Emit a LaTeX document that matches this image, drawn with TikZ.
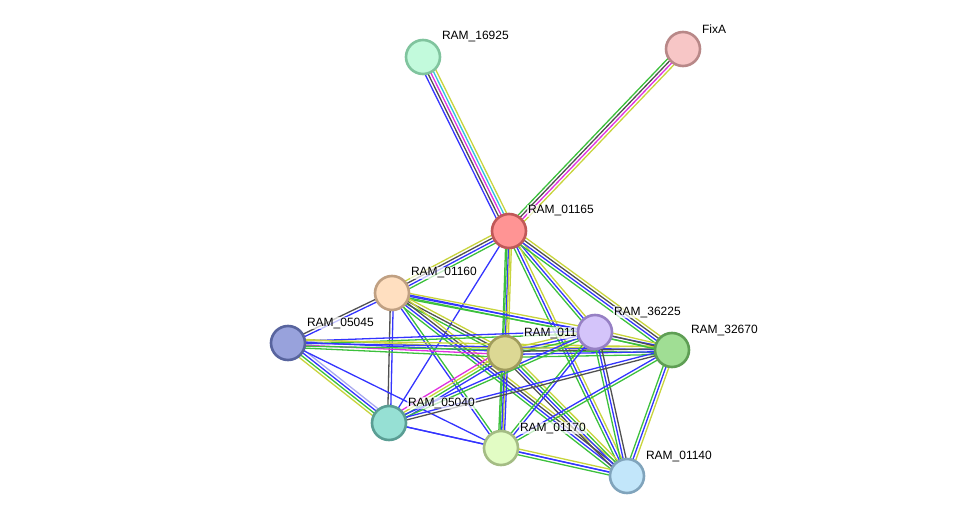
\documentclass[tikz,border=0pt]{standalone}
\usepackage{fontspec}
\setmainfont{Liberation Sans}
\usetikzlibrary{calc}
% evidence colours
\definecolor{eGreen}{HTML}{3CC03C}
\definecolor{eBlue}{HTML}{3434FF}
\definecolor{eBlack}{HTML}{505050}
\definecolor{eMagenta}{HTML}{E030E0}
\definecolor{eCyan}{HTML}{34C0E0}
\definecolor{eYellow}{HTML}{C8D43C}
\definecolor{eLav}{HTML}{A8A8F0}
\pgfdeclarelayer{edges}
\pgfdeclarelayer{labels}
\pgfsetlayers{edges,labels,main}
% one evidence line per colour, side by side
\newcommand{\link}[3]{%
  \foreach \col [count=\k] in {#3} {\xdef\nlines{\k}}
  \foreach \col [count=\i] in {#3} {
    \pgfmathsetmacro{\off}{(\i-(\nlines+1)/2)*2.9}
    \draw[evline, \col] ($(#1)!\off pt!90:(#2)$) -- ($(#2)!\off pt!-90:(#1)$);
  }}

\begin{document}
\begin{tikzpicture}[x=1pt, y=-1pt,
    prot/.style={circle, minimum size=34pt, line width=2.6pt, inner sep=0pt},
    evline/.style={line width=1.3pt},
    lbl/.style={anchor=west, font=\fontsize{12}{14}\selectfont, inner sep=0.8pt,
      fill=white, fill opacity=0.7, text opacity=1}]
  \useasboundingbox (0,0) rectangle (975,522);
  \node[prot, fill={rgb,255:red,194;green,250;blue,220}, draw={rgb,255:red,128;green,196;blue,158}] (n16925) at (423, 57)  {};
  \node[prot, fill={rgb,255:red,247;green,198;blue,198}, draw={rgb,255:red,184;green,136;blue,136}] (nFixA)  at (683, 49)  {};
  \node[prot, fill={rgb,255:red,255;green,148;blue,148}, draw={rgb,255:red,192;green,88;blue,88}]   (n01165) at (509, 231) {};
  \node[prot, fill={rgb,255:red,255;green,223;blue,192}, draw={rgb,255:red,192;green,160;blue,130}] (n01160) at (392, 293) {};
  \node[prot, fill={rgb,255:red,152;green,162;blue,220}, draw={rgb,255:red,88;green,100;blue,158}]  (n05045) at (288, 343) {};
  \node[prot, fill={rgb,255:red,220;green,216;blue,148}, draw={rgb,255:red,160;green,156;blue,92}]  (n011)   at (505, 353) {};
  \node[prot, fill={rgb,255:red,212;green,196;blue,250}, draw={rgb,255:red,150;green,128;blue,196}] (n36225) at (595, 332) {};
  \node[prot, fill={rgb,255:red,160;green,222;blue,148}, draw={rgb,255:red,94;green,158;blue,84}]   (n32670) at (672, 350) {};
  \node[prot, fill={rgb,255:red,150;green,224;blue,212}, draw={rgb,255:red,90;green,158;blue,148}]  (n05040) at (389, 423) {};
  \node[prot, fill={rgb,255:red,226;green,252;blue,196}, draw={rgb,255:red,164;green,188;blue,132}] (n01170) at (501, 448) {};
  \node[prot, fill={rgb,255:red,194;green,230;blue,250}, draw={rgb,255:red,128;green,164;blue,188}] (n01140) at (627, 476) {};

  \begin{pgfonlayer}{labels}
    \node[lbl] (l16925) at ($(n16925)+(18,-20)$) {RAM\_16925};
    \node[lbl] (lFixA)  at ($(nFixA)+(18,-20)$)  {FixA};
    \node[lbl] (l01165) at ($(n01165)+(18,-20)$) {RAM\_01165};
    \node[lbl] (l01160) at ($(n01160)+(18,-20)$) {RAM\_01160};
    \node[lbl] (l05045) at ($(n05045)+(18,-20)$) {RAM\_05045};
    \node[lbl] (l011)   at ($(n011)+(18,-20)$)   {RAM\_011};
    \node[lbl] (l36225) at ($(n36225)+(18,-20)$) {RAM\_36225};
    \node[lbl] (l32670) at ($(n32670)+(18,-20)$) {RAM\_32670};
    \node[lbl] (l05040) at ($(n05040)+(18,-20)$) {RAM\_05040};
    \node[lbl] (l01170) at ($(n01170)+(18,-20)$) {RAM\_01170};
    \node[lbl] (l01140) at ($(n01140)+(18,-20)$) {RAM\_01140};
  \end{pgfonlayer}

  \begin{pgfonlayer}{edges}
    \link{n16925}{n01165}{eBlue,eBlack,eMagenta,eCyan,eYellow}
    \link{nFixA}{n01165}{eGreen,eBlack,eMagenta,eYellow}
    \link{n01165}{n01160}{eYellow,eBlack,eBlue,eGreen}
    \link{n01165}{n05040}{eBlue}
    \link{n01165}{n011}{eGreen,eBlue,eYellow}
    \link{n01165}{n36225}{eGreen,eBlue,eYellow}
    \link{n01165}{n32670}{eGreen,eBlue,eBlack,eYellow}
    \link{n01165}{n01140}{eGreen,eBlue,eYellow}
    \link{n01165}{n01170}{eGreen,eYellow}
    \link{n01160}{n05045}{eBlack,eBlue}
    \link{n01160}{n05040}{eBlack,eBlue}
    \link{n01160}{n36225}{eGreen,eBlue,eYellow}
    \link{n01160}{n32670}{eGreen,eBlue}
    \link{n01160}{n011}{eGreen,eBlack,eYellow}
    \link{n01160}{n01140}{eGreen,eBlue,eBlack,eYellow}
    \link{n01160}{n01170}{eBlue,eGreen}
    \link{n05045}{n011}{eGreen,eMagenta,eBlue,eYellow}
    \link{n05045}{n36225}{eGreen,eBlue}
    \link{n05045}{n32670}{eGreen,eBlue,eYellow}
    \link{n05045}{n05040}{eYellow,eGreen,eBlue,eLav}
    \link{n05045}{n01170}{eBlue}
    \link{n011}{n05040}{eMagenta,eYellow,eGreen,eBlue}
    \link{n011}{n01170}{eGreen,eBlue,eBlue}
    \link{n011}{n01140}{eBlack,eBlue,eGreen,eYellow}
    \link{n011}{n36225}{eGreen,eBlue,eYellow}
    \link{n011}{n32670}{eGreen,eBlue,eBlack,eYellow}
    \link{n36225}{n05040}{eBlue,eGreen}
    \link{n36225}{n01170}{eGreen,eBlue}
    \link{n36225}{n01140}{eGreen,eBlue,eBlack}
    \link{n36225}{n32670}{eGreen,eBlack,eYellow}
    \link{n32670}{n05040}{eBlue,eBlack}
    \link{n32670}{n01170}{eBlue,eGreen}
    \link{n32670}{n01140}{eGreen,eBlue,eYellow}
    \link{n05040}{n01170}{eBlue}
    \link{n05040}{n01140}{eBlue}
    \link{n01170}{n01140}{eGreen,eBlue,eYellow}
  \end{pgfonlayer}
\end{tikzpicture}
\end{document}
